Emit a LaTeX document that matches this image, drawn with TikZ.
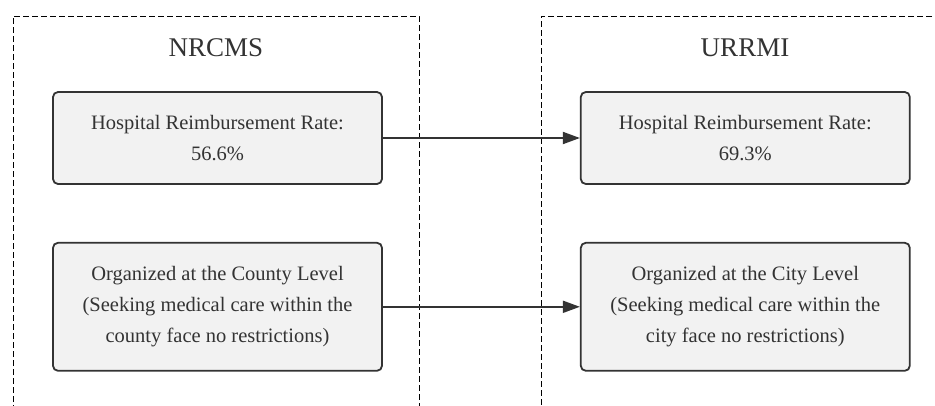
\documentclass[tikz,border=0pt]{standalone}
\usepackage{fontspec}
\setmainfont{Liberation Serif}
\newfontfamily\boxfont{Liberation Serif}
\usetikzlibrary{positioning}
\usetikzlibrary{arrows.meta}
\usepackage{color}

\definecolor{boxfill}{HTML}{F2F2F2}
\definecolor{boxline}{HTML}{333333}

\tikzset{
  cluster/.style={draw=black, dash pattern=on 6pt off 3pt, line width=0.9pt},
  stage/.style={draw=boxline, fill=boxfill, line width=1.8pt, rounded corners=5pt,
    minimum width=329pt, align=center, text=boxline, inner sep=0pt,
    font=\boxfont\fontsize{20.5}{31}\selectfont},
  title/.style={text=boxline, font=\boxfont\fontsize{27}{32}\selectfont},
  link/.style={-{Triangle[length=17pt,width=12pt]}, draw=boxline, line width=1.8pt}
}

\begin{document}
\begin{tikzpicture}[x=1pt,y=1pt]

    \useasboundingbox (0,0) rectangle (935,-405);
    \clip (0,0) rectangle (935,-405);

    % clusters
    \draw[cluster] (13,-420) -- (13,-16) -- (419,-16) -- (419,-420);
    \draw[cluster] (950,-16) -- (541,-16) -- (541,-420);
    \node[title] (nrcms) at (216,-48) {NRCMS};
    \node[title] (urrmi) at (745,-48) {URRMI};

    %nodes
    \node[stage, minimum height=92pt] (nrate) at (217.5,-138) {Hospital Reimbursement Rate:\\56.6\%};
    \node[stage, minimum height=128pt, below=57pt of nrate] (nlevel) {Organized at the County Level\\(Seeking medical care within the\\county face no restrictions)};
    \node[stage, minimum height=92pt, right=197pt of nrate] (urate) {Hospital Reimbursement Rate:\\69.3\%};
    \node[stage, minimum height=128pt, right=197pt of nlevel] (ulevel) {Organized at the City Level\\(Seeking medical care within the\\city face no restrictions)};

    % edges
    \draw[link] (nrate) -- (urate);
    \draw[link] (nlevel) -- (ulevel);

\end{tikzpicture}
\end{document}
